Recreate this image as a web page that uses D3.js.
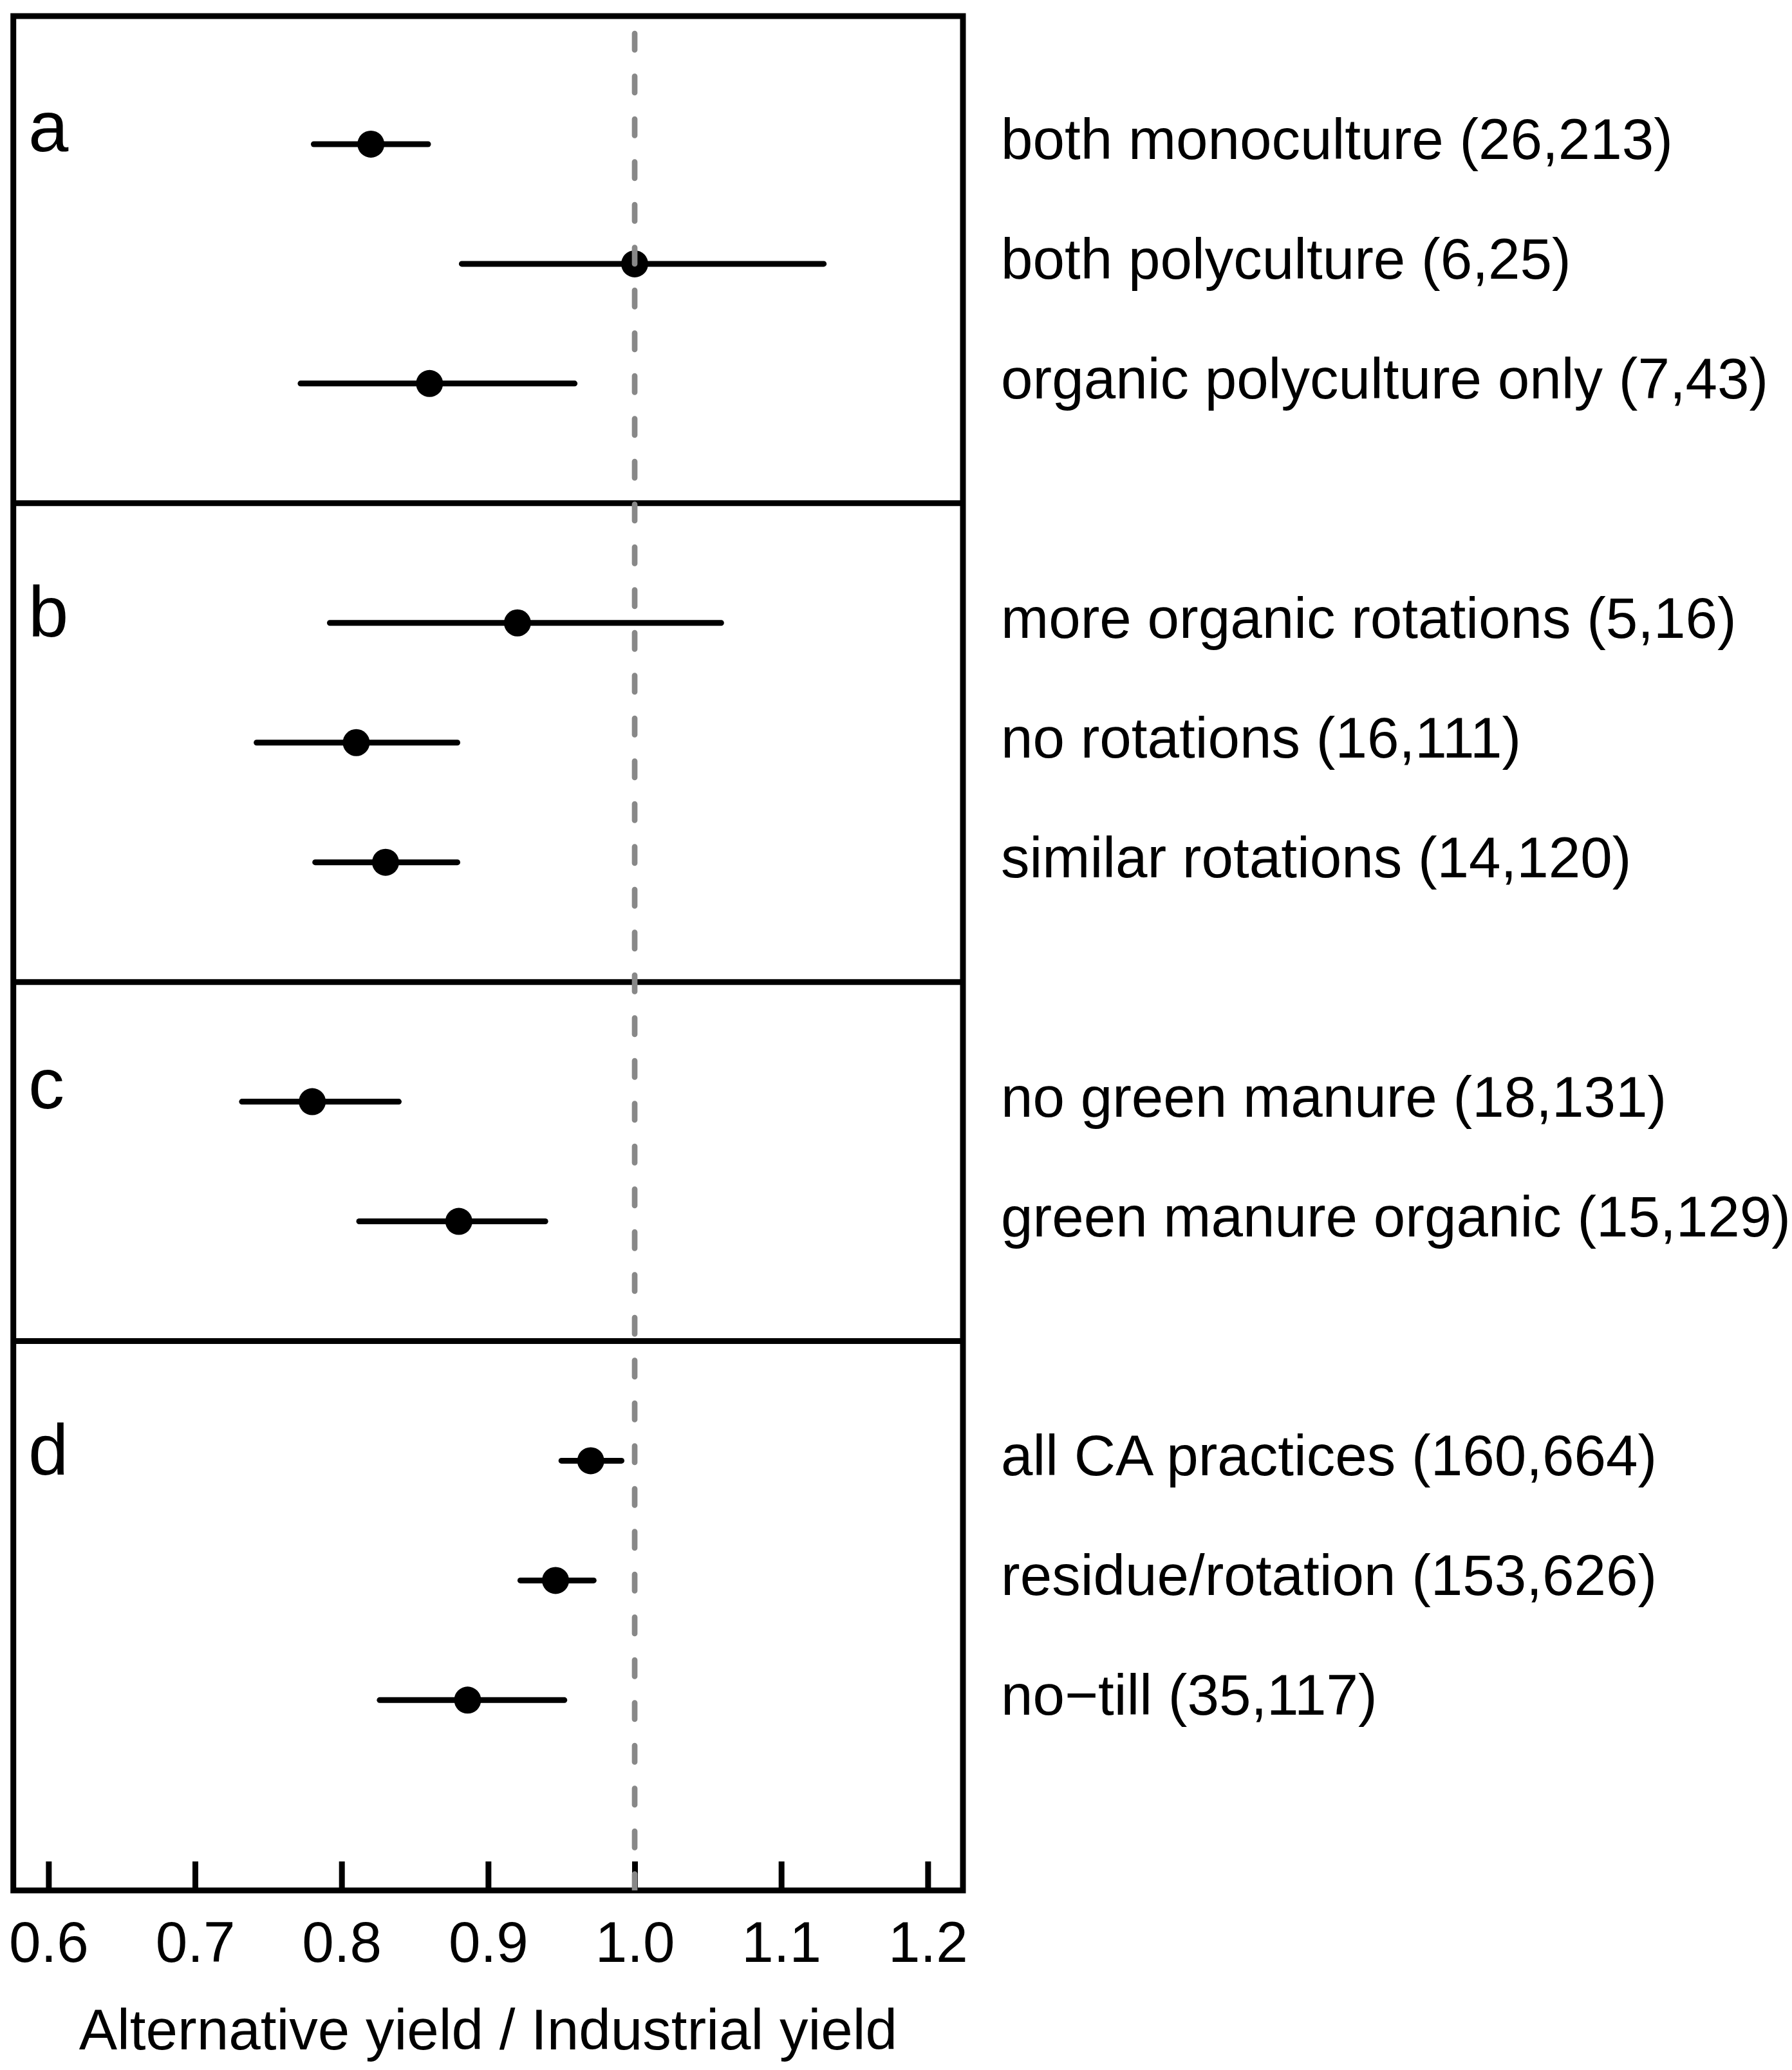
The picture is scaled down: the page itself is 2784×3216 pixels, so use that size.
<!DOCTYPE html>
<html>
<head>
<meta charset="utf-8">
<script src="https://cdn.jsdelivr.net/npm/d3@7"></script>
<style>
  body { margin: 0; background: #fff; }
  text { font-family: "Liberation Sans", Arial, Helvetica, sans-serif; fill: #000; }
</style>
</head>
<body>
<div id="chart"></div>
<script>
// data
var panel    = ["a", "a", "a", "b", "b", "b", "c", "c", "d", "d", "d"];
var labels   = ["both monoculture (26,213)", "both polyculture (6,25)", "organic polyculture only (7,43)",
                "more organic rotations (5,16)", "no rotations (16,111)", "similar rotations (14,120)",
                "no green manure (18,131)", "green manure organic (15,129)",
                "all CA practices (160,664)", "residue/rotation (153,626)", "no\u2212till (35,117)"];
var estimate = [0.820, 1.000, 0.860, 0.920, 0.810, 0.830, 0.780, 0.880, 0.970, 0.946, 0.886];
var lower    = [0.781, 0.882, 0.772, 0.792, 0.742, 0.782, 0.732, 0.812, 0.950, 0.922, 0.826];
var upper    = [0.859, 1.129, 0.959, 1.059, 0.879, 0.879, 0.839, 0.939, 0.991, 0.972, 0.952];
var xTicks   = [0.6, 0.7, 0.8, 0.9, 1.0, 1.1, 1.2];
var refLine  = 1.0;

var W = 2784, H = 3216;
var lw = 9;

// rows go down one slot at a time, an empty slot between panels holds the divider
var rows = [], dividers = [], slot = 0;
panel.forEach(function(p, i) {
  if (i > 0 && p !== panel[i - 1]) { dividers.push(slot); slot += 1; }
  rows.push({panel: p, label: labels[i], est: estimate[i], lo: lower[i], hi: upper[i], slot: slot,
             first: i === 0 || p !== panel[i - 1]});
  slot += 1;
});

var x = d3.scaleLinear().domain([0.576, 1.224]).range([20.7, 1496]);
var y = d3.scaleLinear().domain([-1.07, 14.59]).range([25, 2937]);

var x0 = x.range()[0], x1 = x.range()[1], y0 = y.range()[0], y1 = y.range()[1];

// vertical centring on the glyph box, like R's text()
var ctx = document.createElement("canvas").getContext("2d");
function baseline(str, size, cy) {
  ctx.font = size + "px 'Liberation Sans'";
  var m = ctx.measureText(str);
  return cy + (m.actualBoundingBoxAscent - m.actualBoundingBoxDescent) / 2;
}

var svg = d3.select("#chart").append("svg")
    .attr("width", W).attr("height", H)
    .attr("viewBox", "0 0 " + W + " " + H);

svg.append("defs").append("clipPath").attr("id", "plotclip")
  .append("rect").attr("x", x0).attr("y", y0).attr("width", x1 - x0).attr("height", y1 - y0);

// x axis, ticks pointing inwards
var axis = svg.append("g")
    .attr("transform", "translate(0," + y1 + ")")
    .call(d3.axisBottom(x).tickValues(xTicks).tickSize(-45).tickPadding(48)
          .tickFormat(d3.format(".1f")));
axis.select(".domain").remove();
axis.selectAll(".tick line").attr("stroke", "#000").attr("stroke-width", lw);
axis.selectAll(".tick text").attr("font-size", 89).attr("font-family", null);
axis.attr("font-family", null);

svg.append("text")
    .attr("x", (x0 + x1) / 2)
    .attr("y", 3184)
    .attr("text-anchor", "middle")
    .attr("font-size", 89)
    .text("Alternative yield / Industrial yield");

// panel dividers and frame
svg.selectAll("line.divider")
  .data(dividers)
  .enter()
  .append("line")
    .attr("class", "divider")
    .attr("x1", x0).attr("x2", x1)
    .attr("y1", function(d) { return y(d); })
    .attr("y2", function(d) { return y(d); })
    .attr("stroke", "#000").attr("stroke-width", lw);

svg.append("rect")
    .attr("x", x0).attr("y", y0)
    .attr("width", x1 - x0).attr("height", y1 - y0)
    .attr("fill", "none").attr("stroke", "#000").attr("stroke-width", lw);

// error bars and estimates
svg.selectAll("line.ci")
  .data(rows)
  .enter()
  .append("line")
    .attr("class", "ci")
    .attr("x1", function(d) { return x(d.lo); })
    .attr("x2", function(d) { return x(d.hi); })
    .attr("y1", function(d) { return y(d.slot); })
    .attr("y2", function(d) { return y(d.slot); })
    .attr("stroke", "#000").attr("stroke-width", lw).attr("stroke-linecap", "round");

svg.selectAll("circle.est")
  .data(rows)
  .enter()
  .append("circle")
    .attr("class", "est")
    .attr("cx", function(d) { return x(d.est); })
    .attr("cy", function(d) { return y(d.slot); })
    .attr("r", 21)
    .attr("fill", "#000");

// panel letters
svg.selectAll("text.letter")
  .data(rows.filter(function(d) { return d.first; }))
  .enter()
  .append("text")
    .attr("class", "letter")
    .attr("x", 44)
    .attr("y", function(d) { return baseline(d.panel, 112, y(d.slot - 0.1)); })
    .attr("font-size", 112)
    .text(function(d) { return d.panel; });

// row labels to the right of the plot
svg.selectAll("text.rowlab")
  .data(rows)
  .enter()
  .append("text")
    .attr("class", "rowlab")
    .attr("x", 1555)
    .attr("y", function(d) { return baseline(d.label, 89, y(d.slot)); })
    .attr("font-size", 89)
    .text(function(d) { return d.label; });

// reference line at 1, drawn from the bottom up so the dash pattern starts at the axis
svg.append("line")
    .attr("clip-path", "url(#plotclip)")
    .attr("x1", x(refLine)).attr("x2", x(refLine))
    .attr("y1", y1).attr("y2", y0)
    .attr("stroke", "#888888").attr("stroke-width", 8.7)
    .attr("stroke-dasharray", "25.5,41").attr("stroke-linecap", "round");
</script>
</body>
</html>
